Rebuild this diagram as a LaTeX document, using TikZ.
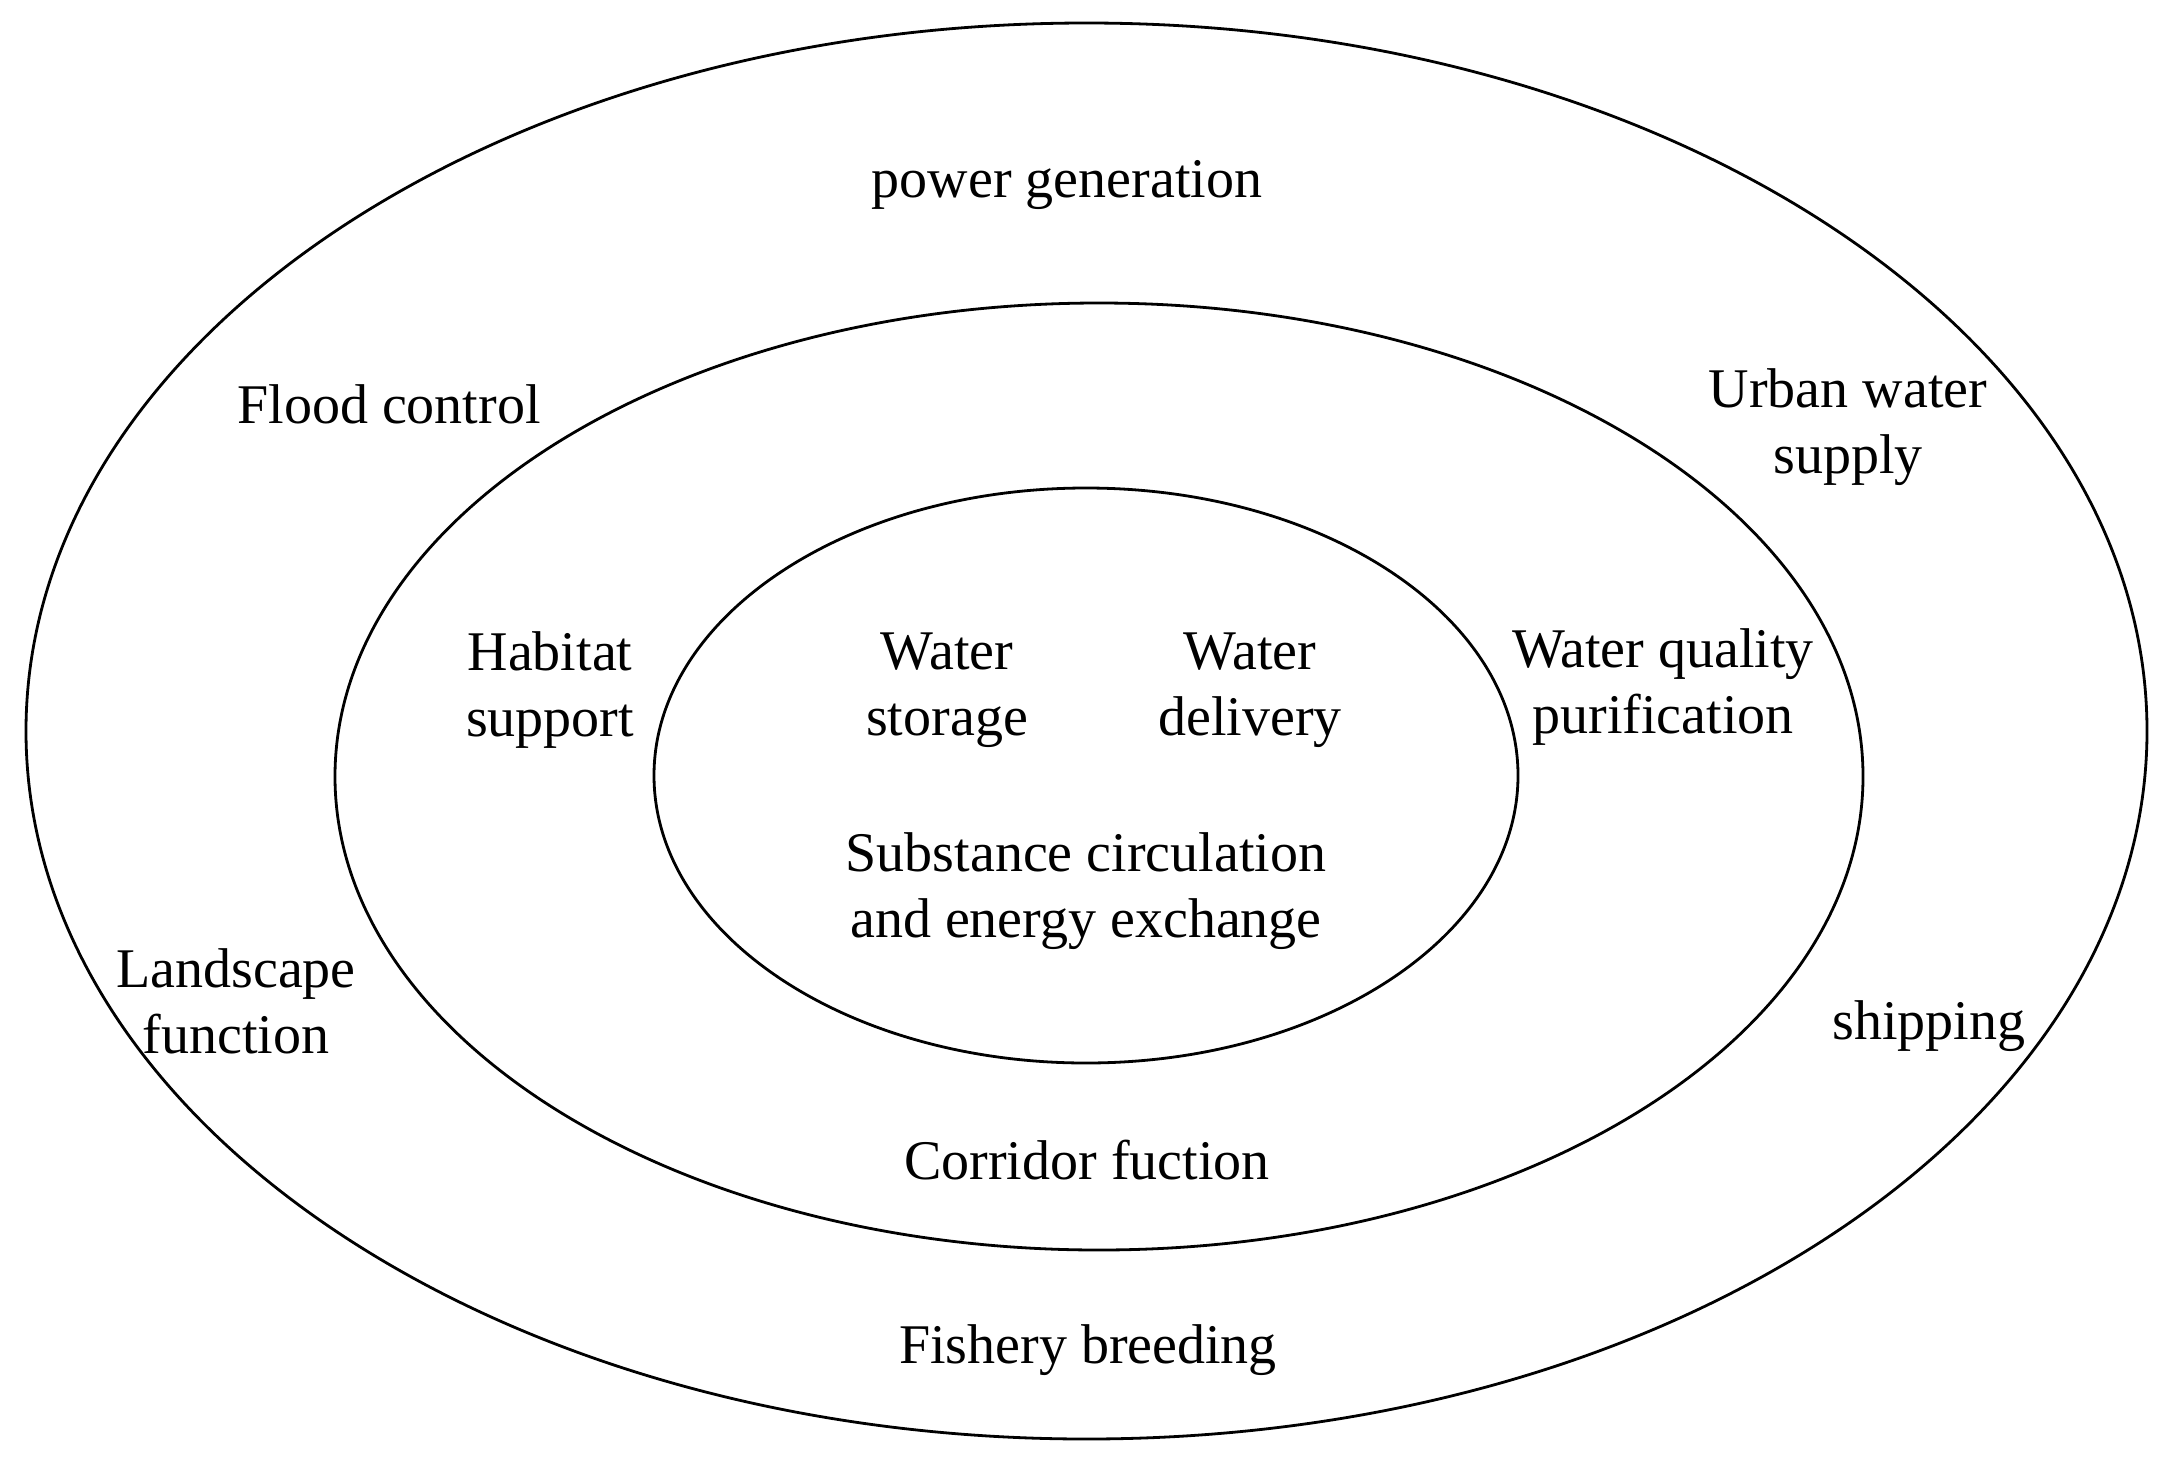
\documentclass[tikz,border=0pt]{standalone}
\usepackage{fontspec}
\setmainfont{Liberation Serif}
\begin{document}
\begin{tikzpicture}[x=0.5pt,y=-0.5pt,
  ring/.style={draw=black,line width=1.4pt},
  lbl/.style={align=center,inner sep=0pt,font=\fontsize{28}{33}\selectfont}]
\useasboundingbox[fill=white] (0,0) rectangle (2173,1462);
\draw[ring] (1086.5,731) ellipse [x radius=1060.5, y radius=708];
\draw[ring] (1099,776.5) ellipse [x radius=764, y radius=473.5];
\draw[ring] (1086,775.5) ellipse [x radius=432, y radius=287.5];
\node[lbl] (power) at (1067,185) {power generation};
\node[lbl] (flood) at (389,404) {Flood control};
\node[lbl] (urban) at (1848,427) {Urban water\\supply};
\node[lbl] (habitat) at (550,690) {Habitat\\support};
\node[lbl] (storage) at (947,690) {Water\\storage};
\node[lbl] (delivery) at (1250,690) {Water\\delivery};
\node[lbl] (quality) at (1663,687) {Water quality\\purification};
\node[lbl] (subst) at (1086,891) {Substance circulation\\and energy exchange};
\node[lbl] (landscape) at (236,1001) {Landscape\\function};
\node[lbl] (shipping) at (1929,1026) {shipping};
\node[lbl] (corridor) at (1087,1160) {Corridor fuction};
\node[lbl] (fishery) at (1088,1350) {Fishery breeding};
\end{tikzpicture}
\end{document}
